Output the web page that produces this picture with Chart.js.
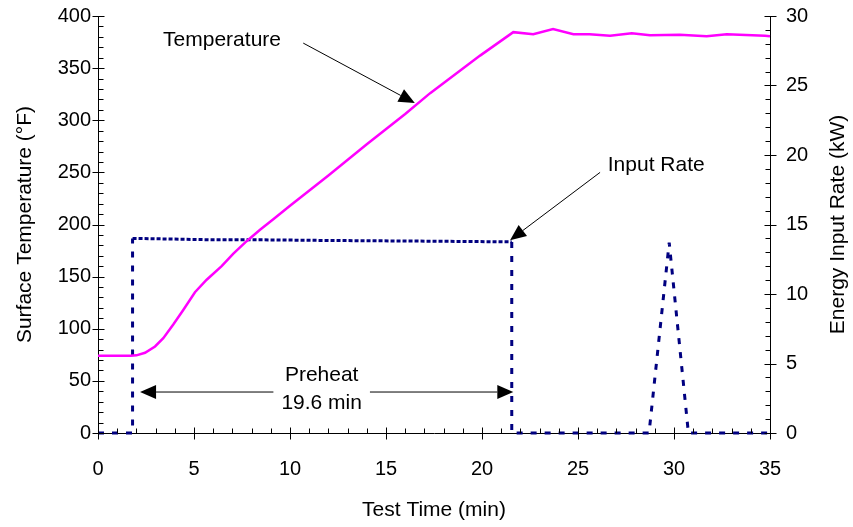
<!DOCTYPE html>
<html>
<head>
<meta charset="utf-8">
<script src="https://cdn.jsdelivr.net/npm/chart.js@4.4.0/dist/chart.umd.min.js"></script>
<style>
  html, body { margin: 0; padding: 0; background: #fff; }
  #wrap { width: 853px; height: 527px; }
</style>
</head>
<body>
<div id="wrap"><canvas id="preheatChart" width="853" height="527"></canvas></div>
<script>
// Dados (tempo em min)
const tempTime = [0, 1.0, 1.7, 2.0, 2.45, 2.97, 3.4, 3.92, 4.44, 5.05, 5.66, 6.44, 7.05, 7.74, 8.44, 9.13,
    10, 12, 14, 16, 17.3, 19.9, 21.63, 22.67, 23.7, 24.76, 25.6, 26.67, 27.8, 28.75, 30.3, 31.7, 32.75, 34.74, 35];
const tempValues = [74, 74, 74, 74.5, 77, 83, 91, 104, 118, 135, 147, 160, 172, 184, 195, 205,
    218, 247, 277, 306, 326, 362, 384.5, 382.5, 387.5, 382.5, 382.5, 381, 383.5, 381.5, 382, 380.5, 382.5, 381, 380.5];

const rateTime = [0, 1.8, 1.8, 4, 6, 8.4, 12, 17.3, 21.55, 21.55, 28.7, 29.75, 30.75, 35];
const rateValues = [0, 0, 14.0, 13.95, 13.9, 13.9, 13.85, 13.8, 13.75, 0, 0, 13.7, 0, 0];

// Rótulos dos eixos
const timeTicks = [0, 5, 10, 15, 20, 25, 30, 35];
const tempTicks = [0, 50, 100, 150, 200, 250, 300, 350, 400];
const rateTicks = [0, 5, 10, 15, 20, 25, 30];

// Anotações (coordenadas em min / °F)
const notes = {
    tempText: { x: 3.39, y: 377, text: 'Temperature' },
    tempArrow: { x0: 10.69, y0: 374, x1: 16.5, y1: 316.5 },
    rateText: { x: 26.55, y: 257, text: 'Input Rate' },
    rateArrow: { x0: 26.15, y0: 250, x1: 21.46, y1: 185 },
    preheat: { x0: 2.19, x1: 21.63, y: 39.3, cx: 11.65, line1: 'Preheat', y1: 55.6, line2: '19.6 min', y2: 28.5 }
};

const FONT = '"Liberation Sans", Arial, sans-serif';
const TEXT_FONT = '21px ' + FONT;
Chart.defaults.font.family = FONT;
Chart.defaults.font.size = 20;
Chart.defaults.color = '#000';

function toPoints(xs, ys) {
    return xs.map((x, i) => ({ x: x, y: ys[i] }));
}

function setTicks(values) {
    return scale => { scale.ticks = values.map(v => ({ value: v })); };
}

// Largura fixa para o eixo vertical, sem folga extra em cima/embaixo
function fixWidth(w) {
    return s => {
        s.width = w;
        s.paddingTop = 0;
        s.paddingBottom = 0;
    };
}

// Desenha uma seta com ponta cheia
function drawArrow(ctx, x0, y0, x1, y1) {
    const ang = Math.atan2(y1 - y0, x1 - x0);
    const len = 16, half = 7;
    const bx = x1 - len * Math.cos(ang), by = y1 - len * Math.sin(ang);
    ctx.beginPath();
    ctx.moveTo(x0, y0);
    ctx.lineTo(bx, by);
    ctx.stroke();
    ctx.beginPath();
    ctx.moveTo(x1, y1);
    ctx.lineTo(bx + half * Math.sin(ang), by - half * Math.cos(ang));
    ctx.lineTo(bx - half * Math.sin(ang), by + half * Math.cos(ang));
    ctx.closePath();
    ctx.fill();
}

// Marcas de escala (maiores cruzando o eixo, menores para dentro) + anotações
const extras = {
    id: 'extras',
    afterDraw(chart) {
        const { ctx, chartArea: a, scales } = chart;
        const { x, y, y1 } = scales;
        ctx.save();
        ctx.strokeStyle = '#000';
        ctx.lineWidth = 1;
        ctx.beginPath();
        const xb = Math.round(a.bottom) + 0.5;
        for (let v = timeTicks[0]; v <= timeTicks[timeTicks.length - 1]; v += 1) {
            const px = Math.round(x.getPixelForValue(v)) + 0.5;
            const major = timeTicks.includes(v);
            ctx.moveTo(px, xb + (major ? 6 : 0));
            ctx.lineTo(px, xb - (major ? 6 : 5));
        }
        const yl = Math.round(a.left) + 0.5;
        for (let v = tempTicks[0]; v <= tempTicks[tempTicks.length - 1]; v += 10) {
            const py = Math.round(y.getPixelForValue(v)) + 0.5;
            const major = tempTicks.includes(v);
            ctx.moveTo(yl - (major ? 6 : 0), py);
            ctx.lineTo(yl + (major ? 6 : 5), py);
        }
        const yr = Math.round(a.right) + 0.5;
        for (let v = rateTicks[0]; v <= rateTicks[rateTicks.length - 1]; v += 1) {
            const py = Math.round(y1.getPixelForValue(v)) + 0.5;
            const major = rateTicks.includes(v);
            ctx.moveTo(yr + (major ? 6 : 0), py);
            ctx.lineTo(yr - (major ? 6 : 5), py);
        }
        ctx.stroke();

        // Título do eixo direito (lido de baixo para cima)
        ctx.font = TEXT_FONT;
        ctx.fillStyle = '#000';
        ctx.textAlign = 'center';
        ctx.textBaseline = 'middle';
        ctx.save();
        ctx.translate(838, (a.top + a.bottom) / 2);
        ctx.rotate(-Math.PI / 2);
        ctx.fillText('Energy Input Rate (kW)', 0, 0);
        ctx.restore();

        // Anotações
        const X = v => x.getPixelForValue(v);
        const Y = v => y.getPixelForValue(v);
        ctx.textAlign = 'left';
        ctx.fillText(notes.tempText.text, X(notes.tempText.x), Y(notes.tempText.y));
        ctx.fillText(notes.rateText.text, X(notes.rateText.x), Y(notes.rateText.y));
        drawArrow(ctx, X(notes.tempArrow.x0), Y(notes.tempArrow.y0), X(notes.tempArrow.x1), Y(notes.tempArrow.y1));
        drawArrow(ctx, X(notes.rateArrow.x0), Y(notes.rateArrow.y0), X(notes.rateArrow.x1), Y(notes.rateArrow.y1));

        const p = notes.preheat;
        const cx = X(p.cx), py = Y(p.y);
        ctx.textAlign = 'center';
        ctx.fillText(p.line1, cx, Y(p.y1));
        ctx.fillText(p.line2, cx, Y(p.y2));
        const gap = ctx.measureText(p.line2).width / 2 + 8;
        drawArrow(ctx, cx - gap, py, X(p.x0), py);
        drawArrow(ctx, cx + gap, py, X(p.x1), py);
        ctx.restore();
    }
};

const chart = new Chart(document.getElementById('preheatChart'), {
    type: 'line',
    data: {
        datasets: [{
            label: 'Temperature',
            data: toPoints(tempTime, tempValues),
            yAxisID: 'y',
            borderColor: '#FF00FF',
            borderWidth: 2.5,
            pointRadius: 0,
            tension: 0,
            clip: false
        }, {
            label: 'Input Rate',
            data: toPoints(rateTime, rateValues),
            yAxisID: 'y1',
            borderColor: '#000080',
            borderWidth: 3,
            borderCapStyle: 'butt',
            borderJoinStyle: 'bevel',
            borderDash: [6, 8],
            pointRadius: 0,
            tension: 0,
            clip: false,
            segment: {
                borderDash: c => {
                    const dx = Math.abs(c.p1.x - c.p0.x), dy = Math.abs(c.p1.y - c.p0.y);
                    return (dx > dy && c.p0.parsed.y > 0) ? [4, 2] : [6, 8];
                }
            }
        }]
    },
    options: {
        responsive: false,
        devicePixelRatio: 1,
        animation: false,
        layout: { padding: { top: 16, left: 0, right: 0, bottom: 0 } },
        plugins: { legend: { display: false }, tooltip: { enabled: false } },
        scales: {
            x: {
                type: 'linear',
                min: timeTicks[0],
                max: timeTicks[timeTicks.length - 1],
                afterBuildTicks: setTicks(timeTicks),
                afterFit: s => { s.height = 94; },
                grid: { drawOnChartArea: false, drawTicks: false },
                border: { display: true, color: '#000', width: 1 },
                ticks: { padding: 24, maxRotation: 0 },
                title: { display: true, text: 'Test Time (min)', font: { size: 21 }, padding: { top: 0, bottom: 4 } }
            },
            y: {
                type: 'linear',
                position: 'left',
                min: tempTicks[0],
                max: tempTicks[tempTicks.length - 1],
                afterBuildTicks: setTicks(tempTicks),
                afterFit: fixWidth(98),
                grid: { drawOnChartArea: false, drawTicks: false },
                border: { display: true, color: '#000', width: 1 },
                ticks: { padding: 7 },
                title: { display: true, text: 'Surface Temperature (°F)', font: { size: 21 }, padding: { top: 13, bottom: 0 } }
            },
            y1: {
                type: 'linear',
                position: 'right',
                min: rateTicks[0],
                max: rateTicks[rateTicks.length - 1],
                afterBuildTicks: setTicks(rateTicks),
                afterFit: fixWidth(83),
                grid: { drawOnChartArea: false, drawTicks: false },
                border: { display: true, color: '#000', width: 1 },
                ticks: { padding: 16 },
                title: { display: false }
            }
        }
    },
    plugins: [extras]
});
</script>
</body>
</html>
